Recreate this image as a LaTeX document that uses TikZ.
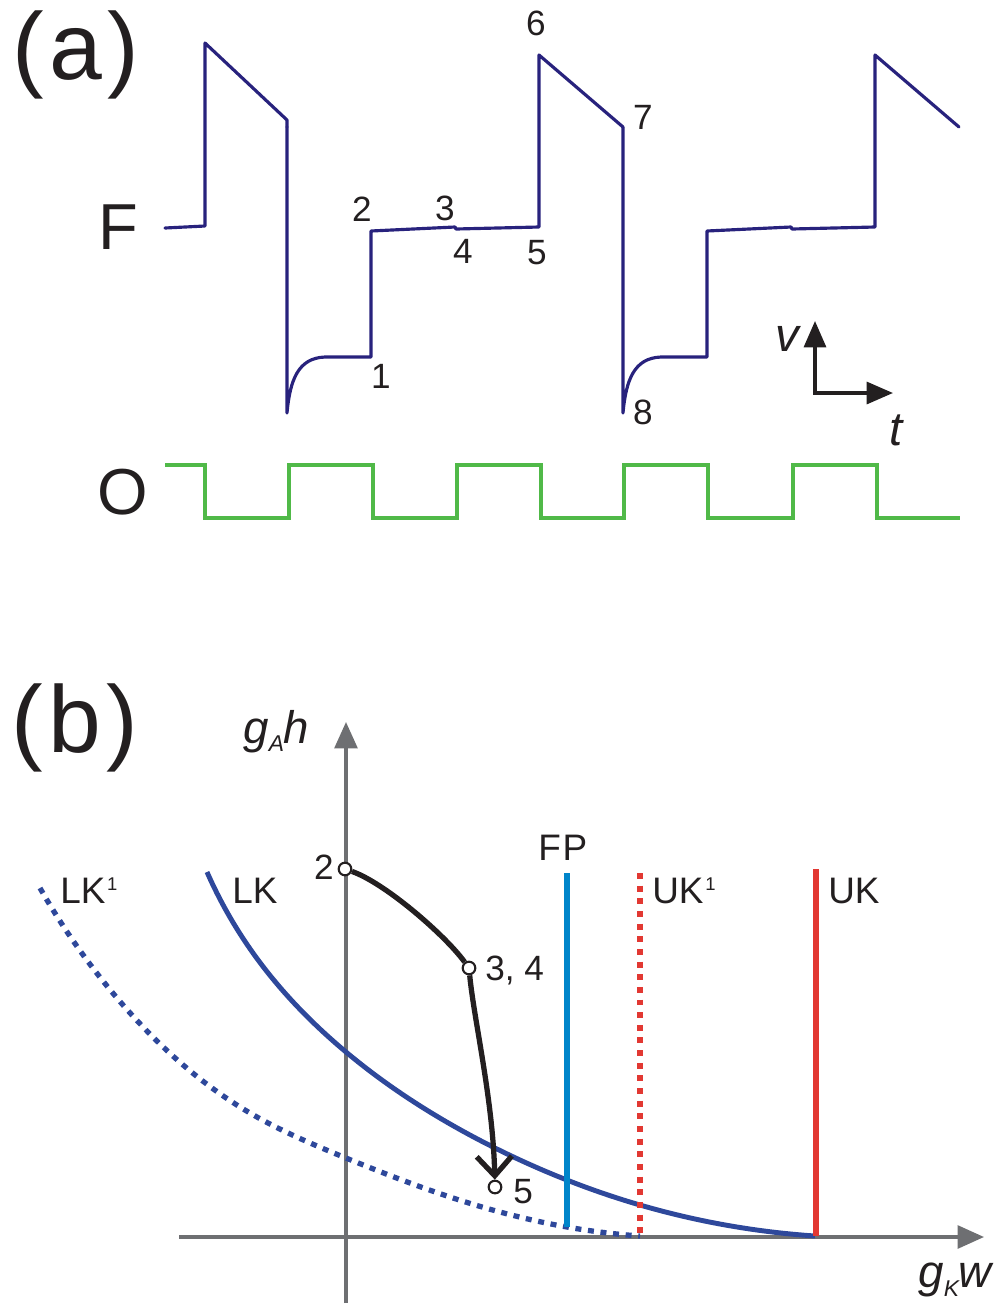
\documentclass[tikz,border=0pt]{standalone}
\usepackage{fontspec}
\setmainfont{Liberation Sans}
\usepackage{tikz}
\usetikzlibrary{hobby, arrows.meta}

\definecolor{fnavy}{RGB}{40,34,125}
\definecolor{lkblue}{RGB}{46,72,155}
\definecolor{fpblue}{RGB}{0,133,202}
\definecolor{ukred}{RGB}{226,56,50}
\definecolor{ogreen}{RGB}{80,185,72}
\definecolor{axgray}{RGB}{110,111,114}
\definecolor{ink}{RGB}{35,31,32}

\newcommand{\FSize}[1]{\fontsize{#1}{#1}\selectfont}
\newcommand{\supone}{\kern1pt\raisebox{7pt}{\FSize{10.5}1}}

\tikzset{
    trace/.style={fnavy, line width=1.8pt, line cap=round, line join=round},
    gate/.style={ogreen, line width=1.8pt},
    axis/.style={axgray, line width=1.9pt, -{Triangle[length=15pt,width=13pt]}},
    vtaxis/.style={ink, line width=1.9pt, {Triangle[length=15pt,width=12.5pt]}-{Triangle[length=15pt,width=12.5pt]}},
    lkline/.style={lkblue, line width=2.8pt},
    lkdots/.style={line width=3pt, dash pattern=on 3.4pt off 3.8pt},
    fpline/.style={fpblue, line width=3.2pt},
    ukline/.style={ukred, line width=3.3pt},
    traj/.style={ink, line width=3pt},
    state/.style={circle, draw=ink, fill=white, line width=1.2pt, inner sep=0pt, minimum size=7.2pt},
    bigl/.style={ink, inner sep=0pt, font=\FSize{54}},
    folab/.style={ink, inner sep=0pt, font=\FSize{37}},
    numa/.style={ink, inner sep=0pt, font=\FSize{20}},
    numb/.style={ink, inner sep=0pt, font=\FSize{20}},
    klab/.style={ink, inner sep=0pt, font=\FSize{21}},
    vtlab/.style={ink, inner sep=0pt, font=\FSize{27}\itshape},
    axlab/.style={ink, inner sep=0pt, font=\FSize{26}\itshape},
}

\begin{document}
\begin{tikzpicture}[x=0.02cm, y=-0.02cm]
    \useasboundingbox (0,0) rectangle (1006,1306);

    % ---- (a) ----
    \node[bigl] (pa) at (76,55) {(\kern3pt a\kern3pt)};
    \node[folab] (tF) at (118,227) {F};
    \node[folab] (tO) at (123,492) {O};

    \draw[trace] (165,228) -- (205,226) -- (205,43) -- (287,120) -- (287,127);
    \foreach \s in {0,336}{
        \draw[trace, shift={(\s,0)}] (287,127) -- (287,413)
            .. controls (290,380) and (298,358) .. (325,357) -- (371,357)
            -- (371,231) -- (455,227) -- (456,229) -- (539,227) -- (539,55) -- (623,127);
    }

    \draw[gate] (165,465) -| (205,518) -| (289,465) -| (373,518) -| (457,465) -| (541,518)
        -| (624,465) -| (708,518) -| (793,465) -| (877,518) -- (960,518);

    \node[numa] (n1) at (381,376) {1};
    \node[numa] (n2) at (362,209) {2};
    \node[numa] (n3) at (445,208) {3};
    \node[numa] (n4) at (463,251) {4};
    \node[numa] (n5) at (537,253) {5};
    \node[numa] (n6) at (536,23) {6};
    \node[numa] (n7) at (643,117) {7};
    \node[numa] (n8) at (643,412) {8};

    \coordinate (vtop) at (815,321);
    \coordinate (tend) at (893,393);
    \draw[vtaxis] (vtop) |- (tend);
    \node[vtlab] (vlab) at (787,339) {v};
    \node[vtlab] (tlab) at (896,430) {t};

    % ---- (b) ----
    \node[bigl] (pb) at (75,728) {(\kern3pt b\kern3pt)};

    \coordinate (xstart) at (179,1237);
    \coordinate (xend) at (984,1237);
    \coordinate (ystart) at (346,1303);
    \coordinate (yend) at (346,722);
    \draw[axis] (xstart) -- (xend);
    \draw[axis] (ystart) -- (yend);
    \node[axlab, anchor=base west] (tgah) at (243,743) {g\raisebox{-5pt}{\FSize{13}A}h};
    \node[axlab, anchor=base west] (tgkw) at (918,1287) {g\raisebox{-5.5pt}{\FSize{13}K}w};

    \begin{scope}[use Hobby shortcut]
    \coordinate (L1) at (207,872);
    \coordinate (L2) at (253,953);
    \coordinate (L3) at (346,1052);
    \coordinate (L4) at (493,1147);
    \coordinate (L5) at (640,1205);
    \coordinate (L6) at (815,1236);
    \coordinate (M1) at (40,888);
    \coordinate (M2) at (117,998);
    \coordinate (M3) at (250,1113);
    \coordinate (M4) at (346,1158);
    \coordinate (M5) at (450,1197);
    \coordinate (M6) at (567,1227);
    \coordinate (M7) at (640,1236);
    \draw[lkline, lkdots] (M1)..(M2)..(M3)..(M4)..(M5)..(M6)..(M7);
    \draw[lkline] (L1)..(L2)..(L3)..(L4)..(L5)..(L6);
    \end{scope}

    \coordinate (fptop) at (567,873);
    \coordinate (fpbot) at (567,1227);
    \coordinate (uk1top) at (640,873);
    \coordinate (uk1bot) at (640,1236);
    \coordinate (uktop) at (816,869);
    \coordinate (ukbot) at (816,1236);
    \draw[fpline] (fptop) -- (fpbot);
    \draw[ukline, lkdots] (uk1top) -- (uk1bot);
    \draw[ukline] (uktop) -- (ukbot);

    \node[klab, anchor=base west] (tLK1) at (60,903) {LK\supone};
    \node[klab, anchor=base west] (tLK) at (232,903) {LK};
    \node[klab, anchor=base west] (tFP) at (538,860) {F\kern1pt P};
    \node[klab, anchor=base west] (tUK1) at (652,903) {UK\supone};
    \node[klab, anchor=base west] (tUK) at (828,903) {UK};

    \node[state] (s2) at (345,869) {};
    \node[state] (s34) at (469,968) {};
    \node[state] (s5) at (495,1187) {};
    \draw[traj] (s2) .. controls (385,883) and (445,935) .. (s34);
    \draw[traj, -{Straight Barb[length=11pt,width=20pt]}] (s34) .. controls (474,1020) and (493,1100) .. (s5);

    \node[numb] (t2) at (324,867) {2};
    \node[numb, anchor=base west] (t34) at (485,980) {3, 4};
    \node[numb, anchor=base west] (t5) at (513,1203) {5};
    %\draw[red] (0,0) grid[step=100] (1006,1306);
\end{tikzpicture}
\end{document}
